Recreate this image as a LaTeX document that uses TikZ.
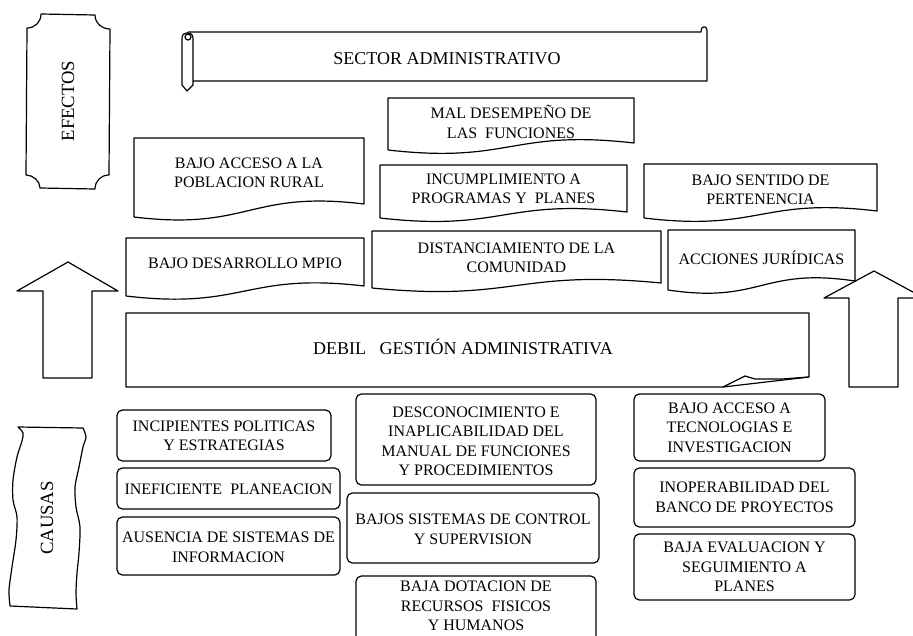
\documentclass[tikz,border=0pt]{standalone}
\usepackage{fontspec}
\setmainfont{Liberation Serif}
\begin{document}
\begin{tikzpicture}[x=.75pt, y=-.75pt, line width=.9pt, line join=round,
    txt/.style={align=center, font=\fontsize{12}{14.6}\selectfont, inner sep=0pt},
    big/.style={align=center, font=\fontsize{13.5}{16}\selectfont, inner sep=0pt},
    side/.style={rotate=90, font=\fontsize{14}{16}\selectfont, inner sep=0pt},
    causa/.style={draw, rounded corners=4pt}]
    \useasboundingbox (0,0) rectangle (913,635);

    % efectos
    \draw (41,14) -- (95,15) .. controls (95,23) and (102,29) .. (110,29) -- (109,175)
        .. controls (101,175) and (95,181) .. (95,189) -- (40,188)
        .. controls (40,181) and (33,175) .. (26,175) -- (27,28)
        .. controls (35,28) and (41,22) .. (41,14) -- cycle;
    \node[side] (efectos) at (68,101) {EFECTOS};

    \draw (188,32) -- (701,32) .. controls (700,26) and (707,25) .. (707,30) -- (707,81) -- (193,81);
    \draw (182,38) .. controls (182,31) and (193,31) .. (193,38) -- (193,85) -- (187,91) -- (182,85) -- cycle;
    \draw (188,37) circle (3);
    \node[big] (sector) at (447,59) {SECTOR ADMINISTRATIVO};

    \foreach \i/\xa/\ya/\xb/\yr/\yl/\ty/\lbl in {
        1/134/138/364/204/217/173/{BAJO ACCESO A LA\\POBLACION RURAL},
        2/126/238/364/286/296/263/{BAJO DESARROLLO MPIO},
        3/388/98/634/143/150/122/{MAL DESEMPEÑO DE\\LAS\ \ FUNCIONES},
        4/380/165/627/212/218/189/{INCUMPLIMIENTO A\\PROGRAMAS Y\ \ PLANES},
        5/372/231/661/283/288/258/{DISTANCIAMIENTO DE LA\\COMUNIDAD},
        6/644/164/877/211/218/190/{BAJO SENTIDO DE\\PERTENENCIA},
        7/668/230/855/281/290/258/{ACCIONES JURÍDICAS}} {
        \draw (\xa,\yl) -- (\xa,\ya) -- (\xb,\ya) -- (\xb,\yr)
            .. controls ({(\xa+\xb)/2},{\yr-14}) and ({(\xa+\xb)/2},{\yl+14}) .. cycle;
        \node[txt] (efecto\i) at ({(\xa+\xb)/2},\ty) {\lbl};
    }

    % problema central
    \draw (126,313) -- (809,313) -- (809,377) -- (723,387) -- (126,387) -- cycle;
    \draw (809,377) -- (782,379) -- (755,379) -- (745,376) -- (723,387);
    \node[big] (debil) at (463,347) {DEBIL\ \ \ GESTIÓN ADMINISTRATIVA};

    \draw (68,262) -- (118,291) -- (92,291) -- (92,378) -- (43,378) -- (43,291) -- (17,291) -- cycle;
    \draw (874,271) -- (924,298) -- (898,298) -- (898,387) -- (849,387) -- (849,298) -- (824,298) -- cycle;

    % causas
    \draw plot[smooth] coordinates {(18,427) (23,433) (22,441) (17,457) (13,480) (13,500) (17,517)
            (16,540) (12,567) (9,590) (10,606)}
        -- plot[smooth] coordinates {(77,609) (76,593) (77,573) (79,553) (80,527) (76,507)
            (75,487) (79,467) (83,447) (86,437) (83,428)} -- cycle;
    \node[side] (causas) at (47,518) {CAUSAS};

    \foreach \i/\xa/\ya/\xb/\yb/\ty/\lbl in {
        1/117/410/331/461/436/{INCIPIENTES POLITICAS\\Y ESTRATEGIAS},
        2/117/468/340/509/489/{INEFICIENTE\ \ PLANEACION},
        3/117/517/340/575/547.5/{AUSENCIA DE SISTEMAS DE\\INFORMACION},
        4/356/394/596/485/441.5/{DESCONOCIMIENTO E\\INAPLICABILIDAD DEL\\MANUAL DE FUNCIONES\\Y PROCEDIMIENTOS},
        5/347/493/599/563/529.5/{BAJOS SISTEMAS DE CONTROL\\Y SUPERVISION},
        6/356/576/596/650/606/{BAJA DOTACION DE\\RECURSOS\ \ FISICOS\\Y HUMANOS},
        7/634/394/825/461/427.5/{BAJO ACCESO A\\TECNOLOGIAS E\\INVESTIGACION},
        8/634/468/855/527/497.5/{INOPERABILIDAD DEL\\BANCO DE PROYECTOS},
        9/634/534/855/600/567/{BAJA EVALUACION Y\\SEGUIMIENTO A\\PLANES}} {
        \draw[causa] (\xa,\ya) rectangle (\xb,\yb);
        \node[txt] (causa\i) at ({(\xa+\xb)/2},\ty) {\lbl};
    }
\end{tikzpicture}
\end{document}
